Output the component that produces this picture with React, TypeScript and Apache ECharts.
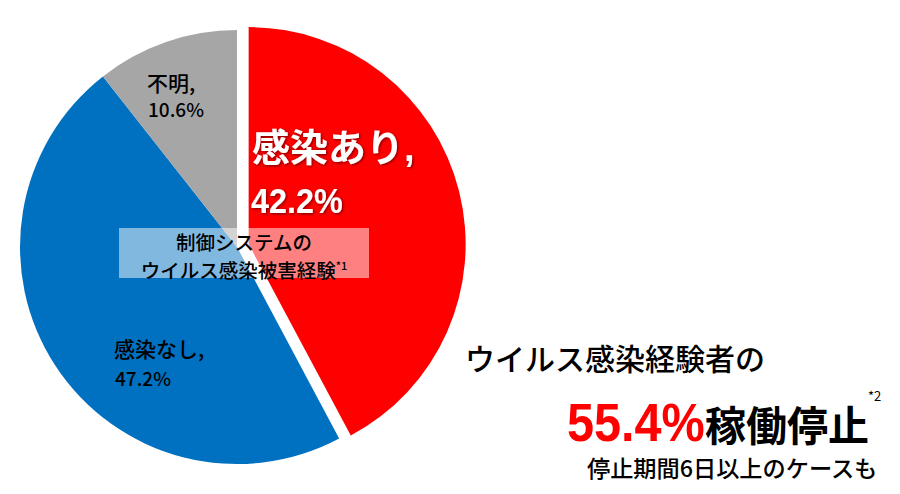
import React, { useEffect, useRef } from "react";
import * as echarts from "echarts";

const categories = ["感染あり", "感染なし", "不明"];
const values = [42.2, 47.2, 10.6];
const colors = ["#FF0000", "#0070C0", "#A6A6A6"];
const boxLines = ["制御システムの", "ウイルス感染被害経験"];
const boxNote = "*1";
const headline = "ウイルス感染経験者の";
const bigRate = "55.4%";
const bigRateText = "稼働停止";
const bigNote = "*2";
const footnote = "停止期間6日以上のケースも";

const JP = "'Liberation Sans', 'Noto Sans CJK JP', sans-serif";
const NJ = "'Noto Sans CJK JP', sans-serif";

export default function App() {
  const ref = useRef<HTMLDivElement>(null);
  useEffect(() => {
    if (!ref.current) return;
    const chart = echarts.init(ref.current, undefined, { renderer: "svg" });
    const lbl = (i: number) => [`${categories[i]},`, `${values[i].toFixed(1)}%`];
    const [a1, a2] = lbl(0);
    const [b1, b2] = lbl(1);
    const [c1, c2] = lbl(2);
    const shadow = {
      textShadowColor: "rgba(0,0,0,0.55)",
      textShadowBlur: 3,
      textShadowOffsetX: 1,
      textShadowOffsetY: 1,
    };
    const txt = (x: number, y: number, text: string, font: string, fill = "#000", align = "left", extra: any = {}) => ({
      type: "text",
      x,
      y,
      z: 100,
      ...extra,
      style: { text, fill, font, textAlign: align, textVerticalAlign: "middle", ...(extra.style || {}) },
    });
    chart.setOption({
      animation: false,
      backgroundColor: "#ffffff",
      series: [
        {
          type: "pie",
          z: 2,
          center: [237, 247],
          radius: [0, 217],
          startAngle: 90,
          clockwise: true,
          selectedMode: "single",
          selectedOffset: 12,
          label: { show: false },
          labelLine: { show: false },
          emphasis: { disabled: true },
          itemStyle: { borderWidth: 0 },
          data: values.map((v, i) => ({
            name: categories[i],
            value: v,
            selected: i === 0,
            itemStyle: { color: colors[i] },
            select: { itemStyle: { color: colors[i], borderWidth: 0 } },
          })),
        },
      ],
      graphic: {
        elements: [
          txt(252, 148, a1, `bold 38px ${JP}`, "#fff", "left", { style: shadow }),
          txt(251, 200, a2, `bold 36px ${JP}`, "#fff", "left", { scaleX: 0.9, style: shadow }),
          txt(147, 82, c1, `500 21px ${NJ}`),
          txt(148, 108, c2, `500 19px ${NJ}`),
          txt(114, 348, b1, `500 21px ${NJ}`),
          txt(115, 377, b2, `500 19px ${NJ}`),
          {
            type: "rect",
            z: 90,
            shape: { x: 119, y: 228, width: 250, height: 50 },
            style: { fill: "rgba(255,255,255,0.5)" },
          },
          txt(244, 255.5, `${boxLines[0]}\n${boxLines[1]}{s|${boxNote}}`, `500 19.5px ${NJ}`, "#000", "center", {
            style: {
              lineHeight: 28.5,
              rich: {
                s: { fontSize: 11, fontWeight: 500, fontFamily: NJ, fill: "#000", padding: [0, 0, 10, 0], lineHeight: 12 },
              },
            },
          }),
          txt(465, 357, headline, `500 30px ${NJ}`),
          txt(567, 422, bigRate, `bold 54px ${JP}`, "#FF0000", "left", { scaleX: 0.9 }),
          txt(705, 423, bigRateText, `bold 41px ${NJ}`),
          txt(868, 395, bigNote, `13px ${NJ}`),
          txt(587, 467, footnote, `500 23.2px ${NJ}`),
        ],
      },
    });
    return () => chart.dispose();
  }, []);
  return <div ref={ref} style={{ width: 900, height: 494, position: "absolute", left: 0, top: 0 }} />;
}
